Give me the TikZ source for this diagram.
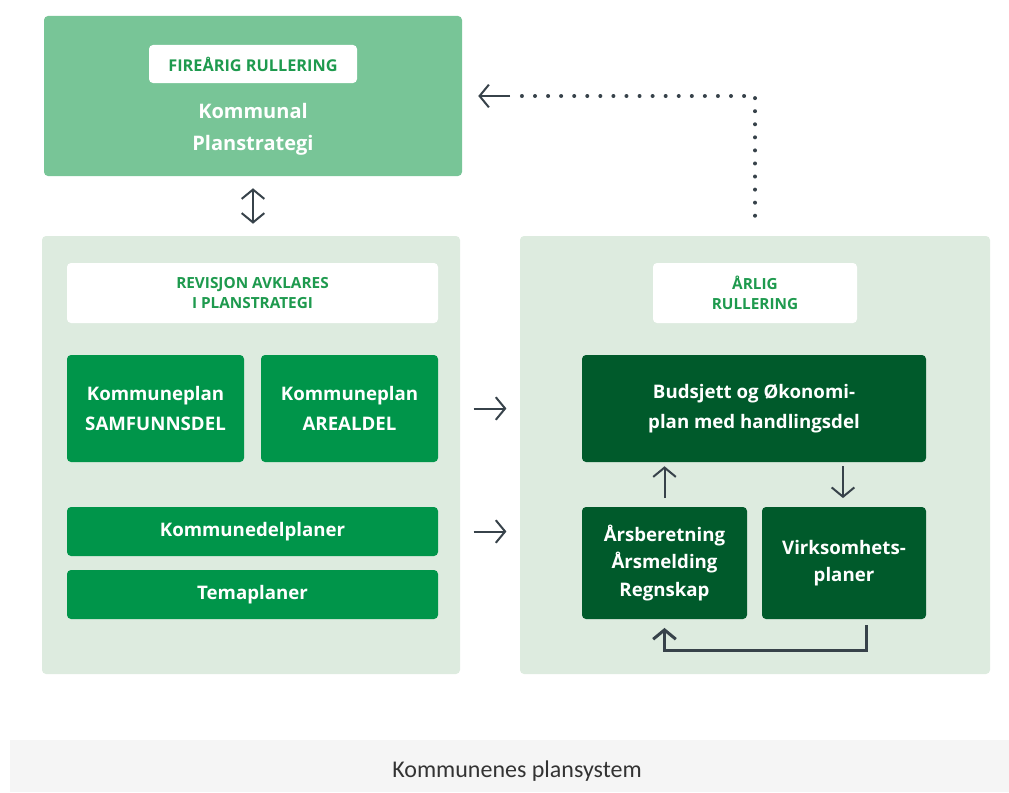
\documentclass[tikz,border=0pt]{standalone}
\usepackage{fontspec}
\setmainfont{Open Sans}
\newfontfamily\capfont{Carlito}
\usetikzlibrary{arrows.meta}
\definecolor{topgreen}{HTML}{78C597}
\definecolor{panelgreen}{HTML}{DDEBDF}
\definecolor{plangreen}{HTML}{00954A}
\definecolor{darkgreen}{HTML}{005A2B}
\definecolor{taggreen}{HTML}{1E9A4E}
\definecolor{arrowgray}{HTML}{37424A}
\definecolor{capgray}{HTML}{F5F5F5}

\begin{document}
\begin{tikzpicture}
[x=0.75pt,y=-0.75pt,
every node/.style={inner sep=0pt,align=center,font=\bfseries},
boxsize/.style 2 args={minimum width=#1*0.75pt,minimum height=#2*0.75pt},
panelbox/.style={fill=panelgreen,rounded corners=3pt},
tagbox/.style={fill=white,rounded corners=3pt,text=taggreen,
	font=\bfseries\fontsize{11.5}{15}\selectfont},
planbox/.style={fill=plangreen,rounded corners=3pt,text=white,
	font=\bfseries\fontsize{14}{23}\selectfont},
darkbox/.style={planbox,fill=darkgreen},
flow/.style={draw=arrowgray,line width=1.5pt,-{Straight Barb[length=7pt,width=17pt]}}]
\useasboundingbox (0,0) rectangle (1009,792);

\node[boxsize={418}{160},fill=topgreen,rounded corners=3pt] (top) at (253,96) {};
\node[boxsize={208}{38},tagbox,font=\bfseries\fontsize{12.2}{15}\selectfont] (toptag) at (253,64) {FIREÅRIG RULLERING};
\node[text=white,font=\bfseries\fontsize{15}{24}\selectfont] (topname) at (253,129.5)
{Kommunal\\Planstrategi};

\node[boxsize={418}{438},panelbox] (lpanel) at (251,455) {};
\node[boxsize={371}{60},tagbox] (ltag) at (252.5,293) {REVISJON AVKLARES\\I PLANSTRATEGI};
\node[boxsize={177}{107},planbox] (samf) at (155.5,408.5) {Kommuneplan\\SAMFUNNSDEL};
\node[boxsize={177}{107},planbox] (areal) at (349.5,408.5) {Kommuneplan\\AREALDEL};
\node[boxsize={371}{49},planbox] (kdp) at (252.5,531.5) {Kommunedelplaner};
\node[boxsize={371}{49},planbox] (tema) at (252.5,594.5) {Temaplaner};

\node[boxsize={470}{438},panelbox] (rpanel) at (755,455) {};
\node[boxsize={204}{60},tagbox] (rtag) at (755,293) {ÅRLIG\\RULLERING};
\node[boxsize={344}{107},darkbox,font=\bfseries\fontsize{14}{22}\selectfont] (buds) at (754,408.5)
{Budsjett og Økonomi-\\plan med handlingsdel};
\node[boxsize={165}{112},darkbox,font=\bfseries\fontsize{14}{20.5}\selectfont] (arsb) at (664.5,563)
{Årsberetning\\Årsmelding\\Regnskap};
\node[boxsize={164}{112},darkbox,font=\bfseries\fontsize{14}{20.5}\selectfont] (virk) at (844,563)
{Virksomhets-\\planer};

\node[boxsize={999}{52},fill=capgray] (capband) at (509.5,766) {};
\node[font=\capfont\fontsize{18}{20}\selectfont,text=black!80] (caption) at (517,771)
{Kommunenes plansystem};

\coordinate (dotend) at (510,96);

\draw[flow,{Straight Barb[length=7pt,width=17pt]}-{Straight Barb[length=7pt,width=17pt]},shorten <=9pt,shorten >=9pt]
(top.south) -- (top.south |- lpanel.north);
\foreach \fromNode in {samf, kdp}
{
	\draw[flow,shorten <=10pt,shorten >=10pt] (lpanel.east |- \fromNode) -- (rpanel.west |- \fromNode);
}
\draw[flow,shorten <=6.5pt,shorten >=3pt] (arsb.north) -- (arsb.north |- buds.south);
\draw[flow,shorten <=3pt,shorten >=6.5pt] (buds.south -| 843,0) -- (virk.north -| 843,0);
\draw[flow,line width=2.25pt,shorten <=4.5pt,shorten >=6.5pt] ([xshift=16.5pt]virk.south) -- ++(0,31) -| (arsb.south);
\draw[arrowgray,line width=3pt,line cap=round,dash pattern=on 0pt off 9.8pt,shorten <=15pt]
(rpanel.north) |- (dotend);
\draw[flow,shorten >=12pt] (dotend) -- (top.east);
\end{tikzpicture}
\end{document}
